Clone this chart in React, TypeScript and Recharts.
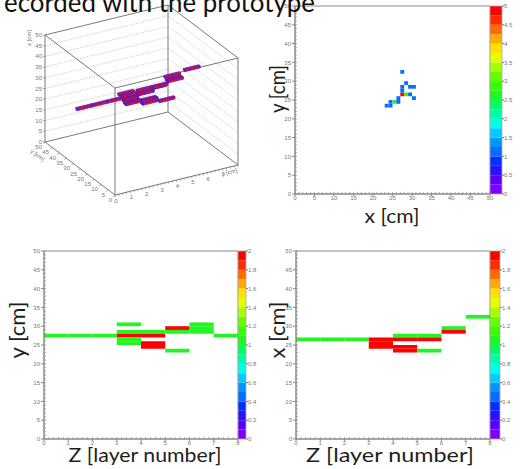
import React from "react";
import { ComposedChart, XAxis, YAxis, ReferenceArea, Scatter } from "recharts";

// ROOT rainbow palette, 20 contour levels from bottom to top
const PALETTE = [
  "#7f00ff", "#5a00ff", "#2a10ff", "#0030ff", "#0a6cff",
  "#0095ff", "#00ccff", "#00ffe6", "#00ffaa", "#00ff66",
  "#22f522", "#33ff00", "#66ff00", "#a6ff00", "#e6ff00",
  "#ffe000", "#ffaa00", "#ff6a00", "#ff2a00", "#ff0000",
];

const CM_TICKS = [0, 5, 10, 15, 20, 25, 30, 35, 40, 45, 50];
const LAYER_TICKS = [0, 1, 2, 3, 4, 5, 6, 7, 8];
const XY_BAR_TICKS = [0, 0.5, 1, 1.5, 2, 2.5, 3, 3.5, 4, 4.5, 5];
const LAYER_BAR_TICKS = [0, 0.2, 0.4, 0.6, 0.8, 1, 1.2, 1.4, 1.6, 1.8, 2];

// top right: [x cm, y cm, hits]
const XY_CELLS: [number, number, number][] = [
  [23, 23, 1], [24, 23, 1], [24, 24, 1], [25, 24, 2.6], [26, 24, 1],
  [26, 25, 1], [27, 26, 5], [28, 26, 2.8], [29, 26, 1], [30, 25, 1],
  [27, 27, 1], [27, 28, 1], [29, 28, 1], [30, 28, 1], [28, 29, 1],
  [27, 32, 1],
];

// bottom left: [layer, y cm, hits]
const ZY_CELLS: [number, number, number][] = [
  [0, 27, 1], [1, 27, 1], [2, 27, 1],
  [3, 30, 1], [3, 28, 1], [3, 27, 2], [3, 26, 1], [3, 25, 1],
  [4, 28, 1], [4, 27, 2], [4, 25, 2], [4, 24, 2],
  [5, 29, 2], [5, 28, 1], [5, 23, 1],
  [6, 30, 1], [6, 29, 1], [6, 28, 1],
  [7, 27, 1],
];

// bottom right: [layer, x cm, hits]
const ZX_CELLS: [number, number, number][] = [
  [0, 26, 1], [1, 26, 1], [2, 26, 1],
  [3, 26, 2], [3, 25, 2], [3, 24, 2],
  [4, 27, 1], [4, 26, 2], [4, 24, 2], [4, 23, 2],
  [5, 27, 1], [5, 26, 2], [5, 23, 1],
  [6, 29, 1], [6, 28, 2],
  [7, 32, 1],
];

// lego plot: [layer, x cm, y cm]
const HITS_3D: [number, number, number][] = [
  [0, 26, 27], [1, 26, 27], [2, 26, 27],
  [3, 26, 30], [3, 26, 28], [3, 25, 27], [3, 25, 27], [3, 24, 26], [3, 24, 25],
  [4, 27, 28], [4, 26, 27], [4, 26, 27], [4, 24, 25], [4, 24, 24], [4, 23, 25], [4, 23, 24],
  [5, 27, 28], [5, 26, 29], [5, 26, 29], [5, 23, 23],
  [6, 29, 30], [6, 28, 29], [6, 28, 28],
  [7, 32, 27],
];

const TICK_FONT = "'Liberation Sans', Arial, sans-serif";
const TITLE_FONT = "Lato, 'Open Sans', sans-serif";
const AXIS_GRAY = "#8a8a8a";

const colorOf = (n: number, max: number) =>
  PALETTE[Math.min(PALETTE.length - 1, Math.floor((n / max) * PALETTE.length))];

const steps = (max: number, step: number) => {
  const out: number[] = [];
  for (let i = 0; i * step <= max + 1e-9; i++) out.push(Math.round(i * step * 100) / 100);
  return out;
};

const fmt = (v: number) => String(Math.round(v * 10) / 10);

const Blank = () => <g />;

// ROOT style minor ticks, pointing into the frame
const MinorX = (p: any) => (
  <line x1={p.cx} y1={p.cy} x2={p.cx} y2={p.cy - 2} stroke={AXIS_GRAY} strokeWidth={0.7} />
);
const MinorY = (p: any) => (
  <line x1={p.cx} y1={p.cy} x2={p.cx + 2} y2={p.cy} stroke={AXIS_GRAY} strokeWidth={0.7} />
);

type Frame = { x: number; y: number; w: number; h: number };

const YW = 22;
const XH = 11;

function HeatMap({ frame, xMax, xTicks, xMinor, cells, zMax }: {
  frame: Frame; xMax: number; xTicks: number[]; xMinor: number;
  cells: [number, number, number][]; zMax: number;
}) {
  const tick = { fontSize: 6, fill: "#777", fontFamily: TICK_FONT };
  const xMinorPts = steps(xMax, xMinor).map((t) => ({ x: t, y: 0 }));
  const yMinorPts = steps(50, 1).map((t) => ({ x: 0, y: t }));
  return (
    <div style={{ position: "absolute", left: frame.x - YW, top: frame.y - 4 }}>
      <ComposedChart
        width={YW + frame.w + 6}
        height={4 + frame.h + XH}
        margin={{ top: 4, right: 6, bottom: 0, left: 0 }}
      >
        <XAxis type="number" dataKey="x" domain={[0, xMax]} ticks={xTicks} interval={0} height={XH}
          tickSize={2} tickMargin={0} tick={tick} stroke={AXIS_GRAY} />
        <YAxis type="number" dataKey="y" domain={[0, 50]} ticks={CM_TICKS} interval={0} width={YW}
          tickSize={3} tickMargin={1} tick={tick} stroke={AXIS_GRAY} />
        {cells.map(([cx, cy, n], i) => (
          <ReferenceArea key={i} x1={cx} x2={cx + 1} y1={cy} y2={cy + 1}
            fill={colorOf(n, zMax)} fillOpacity={1} stroke="none" ifOverflow="visible" />
        ))}
        <ReferenceArea x1={0} x2={xMax} y1={0} y2={50} fill="none" fillOpacity={0}
          stroke={AXIS_GRAY} strokeWidth={1} ifOverflow="visible" />
        <Scatter data={xMinorPts} shape={MinorX} isAnimationActive={false} />
        <Scatter data={yMinorPts} shape={MinorY} isAnimationActive={false} />
      </ComposedChart>
    </div>
  );
}

function ColorBar({ frame, zMax, ticks }: { frame: Frame; zMax: number; ticks: number[] }) {
  const band = zMax / PALETTE.length;
  const mids = PALETTE.map((_, i) => ({ x: 0.5, y: (i + 0.5) * band }));
  return (
    <div style={{ position: "absolute", left: frame.x, top: frame.y - 4 }}>
      <ComposedChart width={frame.w + 16} height={frame.h + 8}
        margin={{ top: 4, right: 0, bottom: 4, left: 0 }}>
        <XAxis type="number" dataKey="x" domain={[0, 1]} hide />
        <YAxis type="number" dataKey="y" orientation="right" domain={[0, zMax]} ticks={ticks} interval={0}
          width={16} tickSize={2} tickMargin={0} axisLine={false} tickFormatter={fmt}
          tick={{ fontSize: 6, fill: "#777", fontFamily: TICK_FONT }} tickLine={{ stroke: "#777" }} />
        <Scatter data={mids} shape={Blank} isAnimationActive={false} />
        {PALETTE.map((c, i) => (
          <ReferenceArea key={c} x1={0} x2={1} y1={i * band} y2={(i + 1) * band}
            fill={c} fillOpacity={1} stroke="none" ifOverflow="visible" />
        ))}
        <ReferenceArea x1={0} x2={1} y1={0} y2={zMax} fill="none" fillOpacity={0}
          stroke="#aaa" strokeWidth={0.8} ifOverflow="visible" />
      </ComposedChart>
    </div>
  );
}

// oblique view of the lego box: layer 0..8 to the right, y 0..50 back-left, x 0..50 up
const proj = (z: number, d: number, v: number) => ({
  px: 115 + 15.375 * z - 1.4 * d,
  py: 195 - 3.75 * z - 1.06 * d - 2.14 * v,
});

const Lego = (p: any) => {
  const { cx, cy, payload } = p;
  const { z, x, y } = payload;
  const o = proj(z, y, x);
  const face = (c: number[][]) =>
    c.map(([dz, dd, dv]) => {
      const q = proj(z + dz, y + dd, x + dv);
      return `${cx + q.px - o.px},${cy + q.py - o.py}`;
    }).join(" ");
  return (
    <g fill="#ff1010" stroke="#3318e0" strokeWidth={0.7}>
      <polygon points={face([[0, 0, 0], [0, 1, 0], [0, 1, 1], [0, 0, 1]])} />
      <polygon points={face([[0, 0, 0], [1, 0, 0], [1, 0, 1], [0, 0, 1]])} />
      <polygon points={face([[0, 0, 1], [1, 0, 1], [1, 1, 1], [0, 1, 1]])} />
    </g>
  );
};

const small = { fontSize: 6, fill: "#777", fontFamily: TICK_FONT };

const VLabel = (p: any) => (
  <g>
    <line x1={p.cx - 2} y1={p.cy} x2={p.cx} y2={p.cy} stroke="#777" strokeWidth={0.6} />
    <text x={p.cx - 3} y={p.cy + 2} textAnchor="end" {...small}>{p.payload.label}</text>
  </g>
);
const DLabel = (p: any) => (
  <g>
    <line x1={p.cx} y1={p.cy} x2={p.cx - 1.5} y2={p.cy + 2} stroke="#777" strokeWidth={0.6} />
    <text x={p.cx - 3} y={p.cy + 7} textAnchor="end" {...small}>{p.payload.label}</text>
  </g>
);
const ZLabel = (p: any) => (
  <text x={p.cx + 1} y={p.cy + 8} textAnchor="middle" {...small}>{p.payload.label}</text>
);
const ZTick = (p: any) => (
  <line x1={p.cx} y1={p.cy} x2={p.cx} y2={p.cy + 1.8} stroke="#777" strokeWidth={0.6} />
);

function Lego3D() {
  const W = 250;
  const H = 210;
  const path = (pts: number[][]) => pts.map(([z, d, v]) => proj(z, d, v));
  const frameLines = [
    path([[0, 0, 0], [8, 0, 0], [8, 50, 0], [0, 50, 0], [0, 0, 0]]),
    path([[0, 0, 50], [8, 0, 50], [8, 50, 50], [0, 50, 50], [0, 0, 50]]),
    path([[0, 0, 0], [0, 0, 50]]),
    path([[8, 0, 0], [8, 0, 50]]),
    path([[8, 50, 0], [8, 50, 50]]),
    path([[0, 50, 0], [0, 50, 50]]),
  ];
  const gridLines = CM_TICKS.filter((v) => v > 0 && v < 50).map((v) =>
    path([[0, 50, v], [8, 50, v], [8, 0, v]]));
  const vLabels = CM_TICKS.map((v) => ({ ...proj(0, 50, v), label: String(v) }));
  const dLabels = CM_TICKS.map((d) => ({ ...proj(0, d, 0), label: String(d) }));
  const zLabels = LAYER_TICKS.slice(0, 8).map((z) => ({ ...proj(z, 0, 0), label: String(z) }));
  const zTicks = steps(8, 0.25).map((z) => proj(z, 0, 0));
  const depth = (z: number, y: number) => z * 3.75 + y * 1.06;
  const boxes = HITS_3D.map(([z, x, y]) => ({ ...proj(z, y, x), z, x, y }))
    .sort((a, b) => depth(b.z, b.y) - depth(a.z, a.y) || a.x - b.x);

  return (
    <div style={{ position: "absolute", left: 0, top: 0 }}>
      <ComposedChart width={W} height={H} margin={{ top: 0, right: 0, bottom: 0, left: 0 }}>
        <XAxis type="number" dataKey="px" domain={[0, W]} hide />
        <YAxis type="number" dataKey="py" domain={[0, H]} reversed hide />
        {gridLines.map((g, i) => (
          <Scatter key={"g" + i} data={g} shape={Blank} isAnimationActive={false}
            line={{ stroke: "#a8a8a8", strokeWidth: 0.6, strokeDasharray: "1.2 1.2" }} />
        ))}
        {frameLines.map((g, i) => (
          <Scatter key={"f" + i} data={g} shape={Blank} isAnimationActive={false}
            line={{ stroke: "#6a6a6a", strokeWidth: 0.9 }} />
        ))}
        <Scatter data={vLabels} shape={VLabel} isAnimationActive={false} />
        <Scatter data={dLabels} shape={DLabel} isAnimationActive={false} />
        <Scatter data={zTicks} shape={ZTick} isAnimationActive={false} />
        <Scatter data={zLabels} shape={ZLabel} isAnimationActive={false} />
        <Scatter data={boxes} shape={Lego} isAnimationActive={false} />
      </ComposedChart>
    </div>
  );
}

function Titles() {
  const t = { fontFamily: TITLE_FONT, fill: "#1e1e1e" };
  return (
    <svg width={527} height={469} style={{ position: "absolute", left: 0, top: 0, pointerEvents: "none" }}>
      <text x={4} y={12} fontSize={26} textLength={311} lengthAdjust="spacingAndGlyphs"
        fontFamily={TITLE_FONT} fill="#111">ecorded with the prototype</text>

      <text x={31} y={46} transform="rotate(-90 31 46)" {...small}>x [cm]</text>
      <text x={30} y={152} transform="rotate(37 30 152)" {...small}>y [cm]</text>
      <text x={222} y={176} transform="rotate(-14 222 176)" {...small}>z [cm]</text>

      <text transform="translate(278 89) rotate(-90)" x={0} y={7} textAnchor="middle" fontSize={21}
        textLength={48} lengthAdjust="spacingAndGlyphs" {...t}>y [cm]</text>
      <text x={392} y={223} textAnchor="middle" fontSize={20} textLength={55}
        lengthAdjust="spacingAndGlyphs" {...t}>x [cm]</text>

      <text transform="translate(18 330) rotate(-90)" x={0} y={7} textAnchor="middle" fontSize={22}
        textLength={57} lengthAdjust="spacingAndGlyphs" {...t}>y [cm]</text>
      <text x={145} y={462} textAnchor="middle" fontSize={20} textLength={153}
        lengthAdjust="spacingAndGlyphs" {...t}>Z [layer number]</text>

      <text transform="translate(278 330) rotate(-90)" x={0} y={7} textAnchor="middle" fontSize={22}
        textLength={57} lengthAdjust="spacingAndGlyphs" {...t}>x [cm]</text>
      <text x={390} y={462} textAnchor="middle" fontSize={20} textLength={168}
        lengthAdjust="spacingAndGlyphs" {...t}>Z [layer number]</text>
    </svg>
  );
}

export default function App() {
  return (
    <div style={{ position: "absolute", left: 0, top: 0, width: 527, height: 469, background: "#fff", overflow: "hidden" }}>
      <Lego3D />
      <HeatMap frame={{ x: 295, y: 6, w: 195, h: 188 }} xMax={50} xTicks={CM_TICKS} xMinor={1}
        cells={XY_CELLS} zMax={5} />
      <ColorBar frame={{ x: 490, y: 6, w: 12, h: 188 }} zMax={5} ticks={XY_BAR_TICKS} />
      <HeatMap frame={{ x: 44, y: 251, w: 194, h: 188 }} xMax={8} xTicks={LAYER_TICKS} xMinor={0.2}
        cells={ZY_CELLS} zMax={2} />
      <ColorBar frame={{ x: 238, y: 251, w: 8, h: 188 }} zMax={2} ticks={LAYER_BAR_TICKS} />
      <HeatMap frame={{ x: 296, y: 251, w: 194, h: 188 }} xMax={8} xTicks={LAYER_TICKS} xMinor={0.2}
        cells={ZX_CELLS} zMax={2} />
      <ColorBar frame={{ x: 490, y: 251, w: 10, h: 188 }} zMax={2} ticks={LAYER_BAR_TICKS} />
      <Titles />
    </div>
  );
}
